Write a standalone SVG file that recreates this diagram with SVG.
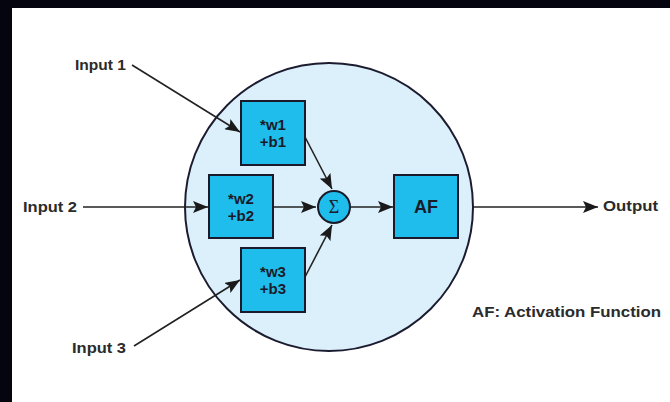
<svg xmlns="http://www.w3.org/2000/svg" width="670" height="402" viewBox="0 0 670 402">
  <style>
    .lbl { font-family: "Liberation Sans", Arial, sans-serif; font-weight: bold; font-size: 15px; fill: #2b2b2b; }
    .box { fill: #1ebdec; stroke: #1a1a2a; stroke-width: 2; }
    .btxt { font-family: "Liberation Sans", Arial, sans-serif; font-weight: bold; font-size: 15px; fill: #1a1a2a; text-anchor: middle; }
    .con { stroke: #222; stroke-width: 1.6; fill: none; marker-end: url(#ah); }
  </style>
  <defs>
    <marker id="ah" markerUnits="userSpaceOnUse" markerWidth="16" markerHeight="12" viewBox="0 0 16 12" refX="15" refY="6" orient="auto">
      <path d="M0,0 L15,6 L0,12 L3,6 Z" fill="#1a1a1a"/>
    </marker>
  </defs>
  <rect x="0" y="0" width="670" height="402" fill="#05050f"/>
  <rect x="12" y="8" width="658" height="394" fill="#ffffff"/>

  <g id="neuron">
    <circle cx="329" cy="207" r="144" fill="#dcf0fb" stroke="#1c1c30" stroke-width="2"/>
  </g>

  <g id="connectors">
    <line class="con" x1="132" y1="65" x2="240" y2="132"/>
    <line class="con" x1="83" y1="207" x2="208" y2="207"/>
    <line class="con" x1="134" y1="346" x2="240" y2="280"/>
    <line class="con" x1="305" y1="137" x2="332" y2="189"/>
    <line class="con" x1="273" y1="207" x2="316" y2="207"/>
    <line class="con" x1="305" y1="277" x2="332" y2="225"/>
    <line class="con" x1="350" y1="207" x2="393" y2="207"/>
    <line class="con" x1="473" y1="207" x2="598" y2="207"/>
  </g>

  <g id="w1">
    <rect class="box" x="241" y="101" width="64" height="64"/>
    <text class="btxt" x="273" y="130">*w1</text>
    <text class="btxt" x="273" y="147">+b1</text>
  </g>
  <g id="w2">
    <rect class="box" x="209" y="175" width="64" height="63"/>
    <text class="btxt" x="241" y="204">*w2</text>
    <text class="btxt" x="241" y="221">+b2</text>
  </g>
  <g id="w3">
    <rect class="box" x="241" y="248" width="64" height="64"/>
    <text class="btxt" x="273" y="277">*w3</text>
    <text class="btxt" x="273" y="294">+b3</text>
  </g>
  <g id="sum">
    <circle cx="334" cy="207" r="16" fill="#1ebdec" stroke="#1a1a2a" stroke-width="2"/>
    <text x="334" y="213" font-family="Liberation Serif, serif" font-size="18" fill="#1a1a2a" text-anchor="middle">Σ</text>
  </g>
  <g id="af">
    <rect class="box" x="394" y="175" width="64" height="63"/>
    <text x="426" y="213" font-family="Liberation Sans, Arial, sans-serif" font-weight="bold" font-size="18" fill="#1a1a2a" text-anchor="middle">AF</text>
  </g>

  <g id="input1"><text class="lbl" x="75" y="70" textLength="51" lengthAdjust="spacingAndGlyphs">Input 1</text></g>
  <g id="input2"><text class="lbl" x="23" y="212" textLength="54" lengthAdjust="spacingAndGlyphs">Input 2</text></g>
  <g id="input3"><text class="lbl" x="72" y="353" textLength="54" lengthAdjust="spacingAndGlyphs">Input 3</text></g>
  <g id="output"><text class="lbl" x="603" y="211" textLength="55" lengthAdjust="spacingAndGlyphs">Output</text></g>
  <g id="legend"><text class="lbl" x="472" y="317" textLength="189" lengthAdjust="spacingAndGlyphs">AF: Activation Function</text></g>
</svg>
